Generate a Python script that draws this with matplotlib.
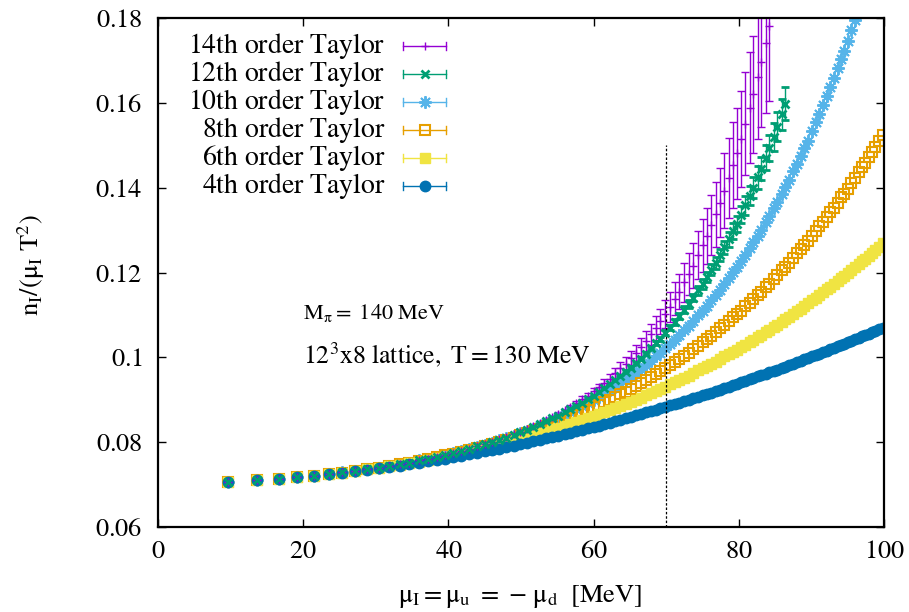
import numpy as np
import matplotlib
matplotlib.use("Agg")
import matplotlib.pyplot as plt

# ---- data ----
# mu_I grid in units of 0.1 MeV
mu_x10 = [96, 136, 166, 192, 215, 235, 254, 272, 288, 304, 318, 333, 346, 359, 372, 384, 396, 407,
          418, 429, 440, 450, 460, 470, 480, 490, 499, 508, 517, 526, 535, 543, 551, 560, 568, 576,
          584, 592, 600, 607, 615, 622, 630, 637, 644, 651, 658, 665, 672, 679, 686, 692, 699, 705,
          712, 718, 725, 731, 737, 744, 750, 756, 762, 768, 774, 780, 786, 792, 797, 803, 809, 815,
          820, 826, 831, 837, 842, 848, 853, 859, 864, 869, 875, 880, 885, 890, 895, 901, 906, 911,
          916, 921, 926, 931, 936, 941, 945, 950, 955, 960, 965, 970, 974, 979, 984, 988, 993, 998]

# n_I/(mu_I T^2) in units of 1e-4
taylor4 = [707, 710, 714, 717, 721, 724, 727, 731, 734, 738, 741, 744, 748, 751, 755, 758, 761, 765,
           768, 771, 775, 778, 781, 785, 788, 792, 795, 799, 802, 805, 809, 812, 815, 819, 822, 826,
           829, 833, 836, 839, 843, 846, 850, 853, 856, 860, 863, 866, 870, 873, 877, 880, 883, 887,
           890, 893, 897, 900, 904, 907, 911, 914, 917, 921, 924, 928, 931, 934, 937, 941, 944, 948,
           951, 955, 958, 961, 965, 968, 971, 975, 978, 982, 985, 989, 992, 995, 998, 1002, 1006, 1009,
           1012, 1016, 1019, 1023, 1026, 1029, 1032, 1036, 1039, 1043, 1046, 1050, 1053, 1056, 1060, 1063, 1066, 1070]

taylor6 = [707, 710, 714, 717, 721, 725, 728, 732, 736, 739, 743, 747, 751, 754, 758, 762, 766, 770,
           774, 778, 782, 786, 790, 795, 799, 804, 808, 812, 816, 821, 825, 830, 834, 839, 843, 848,
           852, 857, 862, 866, 871, 876, 881, 886, 891, 895, 900, 905, 911, 916, 921, 926, 931, 936,
           942, 946, 952, 957, 963, 969, 974, 979, 985, 990, 996, 1002, 1007, 1013, 1018, 1024, 1030, 1036,
           1041, 1048, 1053, 1060, 1065, 1072, 1077, 1084, 1090, 1096, 1103, 1109, 1115, 1121, 1127, 1134, 1140, 1147,
           1153, 1160, 1166, 1173, 1180, 1186, 1192, 1199, 1206, 1213, 1220, 1227, 1233, 1240, 1247, 1253, 1261, 1269]

taylor8 = [707, 711, 714, 718, 721, 725, 728, 732, 736, 740, 744, 748, 752, 756, 760, 764, 769, 773,
           777, 782, 787, 791, 796, 801, 806, 811, 816, 821, 826, 831, 837, 842, 847, 853, 858, 864,
           870, 876, 882, 888, 894, 900, 907, 913, 919, 926, 932, 939, 946, 953, 960, 967, 974, 981,
           989, 996, 1004, 1011, 1019, 1027, 1035, 1043, 1051, 1059, 1068, 1076, 1085, 1094, 1101, 1110, 1120, 1129,
           1137, 1147, 1155, 1166, 1174, 1185, 1194, 1205, 1214, 1223, 1235, 1245, 1255, 1265, 1275, 1287, 1298, 1309,
           1320, 1331, 1342, 1353, 1365, 1377, 1386, 1398, 1411, 1423, 1436, 1448, 1459, 1472, 1485, 1496, 1510, 1524]

taylor10 = [707, 711, 714, 718, 721, 725, 729, 732, 736, 740, 744, 748, 752, 757, 761, 765, 770, 774,
            779, 784, 789, 794, 799, 804, 810, 815, 821, 827, 832, 839, 845, 851, 857, 864, 871, 878,
            885, 892, 900, 907, 915, 922, 931, 939, 947, 956, 964, 973, 983, 992, 1002, 1011, 1022, 1031,
            1042, 1052, 1064, 1075, 1085, 1099, 1110, 1122, 1134, 1147, 1159, 1173, 1186, 1200, 1212, 1227, 1242, 1258,
            1271, 1287, 1301, 1318, 1333, 1351, 1367, 1386, 1402, 1419, 1439, 1456, 1474, 1493, 1511, 1534, 1554, 1574,
            1594, 1615, 1637, 1659, 1681, 1704, 1723, 1746, 1771, 1796, 1821]

taylor12 = [707, 711, 714, 718, 721, 725, 729, 732, 736, 740, 744, 748, 752, 757, 761, 766, 770, 775, 780, 785,
            790, 795, 800, 806, 811, 818, 823, 829, 836, 842, 849, 856, 862, 870, 878, 885, 893, 902, 910, 918,
            928, 936, 947, 956, 966, 976, 986, 997, 1009, 1021, 1033, 1044, 1058, 1070, 1084, 1097, 1112, 1126, 1141, 1158,
            1173, 1189, 1206, 1223, 1241, 1259, 1278, 1298, 1315, 1336, 1358, 1381, 1400, 1424, 1445, 1471, 1493, 1520,
            1544, 1573, 1598]
err12 = [0] * 30 + [1, 1, 1, 1, 1, 1, 1, 1, 1, 2, 2, 2, 2, 3, 3, 3, 3, 4, 4, 4,
                    5, 5, 6, 6, 7, 7, 8, 9, 9, 10, 11, 12, 13, 14, 15, 16, 17, 18, 19, 20,
                    22, 23, 24, 26, 28, 29, 31, 33, 35, 37, 39]

taylor14 = [707, 711, 714, 718, 721, 725, 729, 732, 736, 740, 744, 748, 752, 757, 761, 766, 770, 775, 780, 785,
            790, 795, 801, 807, 813, 819, 825, 831, 838, 845, 852, 859, 866, 875, 883, 892, 901, 910, 920, 929,
            940, 950, 962, 974, 985, 998, 1011, 1025, 1039, 1054, 1070, 1085, 1102, 1118, 1138, 1155, 1177, 1196,
            1216, 1241, 1264, 1287, 1312, 1337, 1365, 1393, 1423, 1454, 1481, 1515, 1551, 1588, 1620, 1661, 1697,
            1741, 1780]
err14 = [0] * 20 + [1, 1, 1, 1, 1, 1, 2, 2, 2, 3, 3, 3, 4, 4, 5, 6, 7, 7, 8, 9, 10, 11, 13, 14, 16, 17,
                    19, 21, 23, 25, 28, 30, 33, 35, 39, 42, 46, 49, 53, 57, 62, 66, 71, 76, 82, 88, 94, 101,
                    107, 114, 122, 131, 138, 147, 155, 166, 175]

labels = ["14th order Taylor", "12th order Taylor", "10th order Taylor",
          "8th order Taylor", "6th order Taylor", "4th order Taylor"]
x_ticks = [0, 20, 40, 60, 80, 100]
x_ticklabels = ["0", "20", "40", "60", "80", "100"]
y_ticks = [0.06, 0.08, 0.10, 0.12, 0.14, 0.16, 0.18]
y_ticklabels = ["0.06", "0.08", "0.1", "0.12", "0.14", "0.16", "0.18"]
mu_cut = 70

# ---- style ----
plt.rcParams['font.family'] = ['STIXGeneral', 'DejaVu Serif']
plt.rcParams['mathtext.fontset'] = 'stix'


def rm(s):
    """Render plain text through mathtext in the (Times-like) STIX roman face."""
    return r'$\mathrm{' + s.replace(' ', r'\ ') + '}$'


mu = np.array(mu_x10) / 10.0
sc = 1e-4
series = [
    (taylor14, err14, dict(color='#9400D3', marker='+', ms=6, mew=1.0)),
    (taylor12, err12, dict(color='#009E73', marker='x', ms=6, mew=2.0)),
    (taylor10, None, dict(color='#56B4E9', marker=(8, 2, 0), ms=9, mew=1.4)),
    (taylor8, None, dict(color='#E69F00', marker='s', ms=7, mew=1.5, mfc='none')),
    (taylor6, None, dict(color='#F0E442', marker='s', ms=7, mew=1.0)),
    (taylor4, None, dict(color='#0072B2', marker='o', ms=7.5, mew=1.0)),
]

W, H = 909, 612
fig = plt.figure(figsize=(W / 100, H / 100), dpi=100)
L, R, T, B = 158, 884, 18, 527
ax = fig.add_axes([L / W, 1 - B / H, (R - L) / W, (B - T) / H])
ax.set_xlim(0, 100)
ax.set_ylim(0.06, 0.18)

for vals, errs, st in series:
    n = len(vals)
    y = np.array(vals) * sc
    if errs is not None:
        ax.errorbar(mu[:n], y, yerr=np.array(errs) * sc, ls='none', capsize=3,
                    elinewidth=1.0, capthick=1.0, **st)
    else:
        ax.plot(mu[:n], y, ls='none', **st)

ax.plot([mu_cut, mu_cut], [0.06, 0.15], color='k', ls=(0, (2, 1.5)), lw=0.9)

ax.set_xticks(x_ticks)
ax.set_xticklabels([rm(t) for t in x_ticklabels], fontsize=19)
ax.set_yticks(y_ticks)
ax.set_yticklabels([rm(t) for t in y_ticklabels], fontsize=19)
ax.tick_params(direction='in', top=True, right=True, length=6, width=1.0)
ax.tick_params(axis='x', pad=9)
ax.tick_params(axis='y', pad=11)
for sp in ax.spines.values():
    sp.set_linewidth(1.6)

fig.text(31 / W, 1 - 265 / H, r'$\mathrm{n_I/(\mu_I\ T^2)}$', rotation=90,
         ha='center', va='center', fontsize=19)
fig.text(520 / W, 1 - 597 / H,
         r'$\mathrm{\mu_I{=}\mu_u\ {=}\ {-}\ \mu_d\ \ [MeV]}$',
         ha='center', va='center', fontsize=19)

fig.text(303 / W, 1 - 313 / H, r'$\mathrm{M_\pi{=}\ 140\ MeV}$', ha='left', va='center', fontsize=16)
fig.text(303 / W, 1 - 355 / H, r'$\mathrm{12^3x8\ lattice,\ T{=}130\ MeV}$', ha='left', va='center', fontsize=18.5)

# legend (gnuplot-style key): labels as figure text, samples drawn in pixel space
ov = fig.add_axes([0, 0, 1, 1], facecolor='none')
ov.set_xlim(0, W)
ov.set_ylim(H, 0)
ov.axis('off')
row_y = [46, 74, 102, 130, 158, 186]
for (vals, errs, st), lab, ry in zip(series, labels, row_y):
    fig.text(385 / W, 1 - ry / H, rm(lab), ha='right', va='center', fontsize=20)
    c = st['color']
    ov.plot([403, 446], [ry, ry], color=c, lw=1.0)
    ov.plot([403, 403], [ry - 4, ry + 4], color=c, lw=1.0)
    ov.plot([446, 446], [ry - 4, ry + 4], color=c, lw=1.0)
    ov.plot([424.5], [ry], ls='none', **st)

fig.savefig('out.png', dpi=100)
